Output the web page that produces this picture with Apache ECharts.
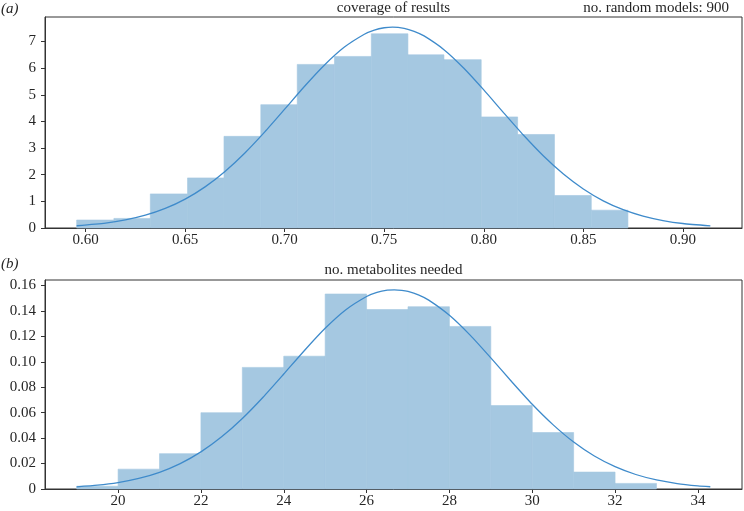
<!DOCTYPE html>
<html>
<head>
<meta charset="utf-8">
<script src="https://cdn.jsdelivr.net/npm/echarts@6/dist/echarts.min.js"></script>
<style>
  html, body { margin: 0; padding: 0; background: #fff; }
  #chart { width: 744px; height: 511px; }
</style>
</head>
<body>
<div id="chart"></div>
<script>
// ---------- data ----------
// (a) coverage of results: histogram bin edges and densities
const coverageEdges = [0.5955, 0.6142, 0.6325, 0.6512, 0.6695, 0.6880, 0.7063, 0.7250,
                       0.7435, 0.7619, 0.7800, 0.7987, 0.8170, 0.8355, 0.8540, 0.8724];
const coverageHeights = [0.30, 0.36, 1.28, 1.88, 3.44, 4.63, 6.14, 6.44, 7.29, 6.50,
                         6.32, 4.17, 3.51, 1.22, 0.67];
// fitted curve points
const coverageCurveX = [0.5955, 0.61, 0.62, 0.63, 0.64, 0.65, 0.66, 0.67, 0.68, 0.69, 0.70,
                        0.71, 0.72, 0.73, 0.74, 0.745, 0.75, 0.7542, 0.76, 0.765, 0.77, 0.78,
                        0.79, 0.80, 0.81, 0.82, 0.83, 0.84, 0.85, 0.86, 0.87, 0.88, 0.89,
                        0.90, 0.9138];
const coverageCurveY = [0.084, 0.184, 0.302, 0.479, 0.734, 1.084, 1.544, 2.124, 2.818, 3.609,
                        4.460, 5.319, 6.118, 6.790, 7.273, 7.429, 7.516, 7.540, 7.495, 7.383,
                        7.211, 6.695, 5.997, 5.183, 4.323, 3.479, 2.701, 2.024, 1.463, 1.020,
                        0.687, 0.446, 0.280, 0.169, 0.080];
const coverageXTicks = [0.60, 0.65, 0.70, 0.75, 0.80, 0.85, 0.90];
const coverageYTicks = [0, 1, 2, 3, 4, 5, 6, 7];

// (b) no. metabolites needed
const metabEdges = [19, 20, 21, 22, 23, 24, 25, 26, 27, 28, 29, 30, 31, 32, 33];
const metabHeights = [0.0022, 0.0156, 0.0278, 0.0600, 0.0956, 0.1044, 0.1533, 0.1411,
                      0.1433, 0.1278, 0.0656, 0.0444, 0.0133, 0.0044];
const metabCurveX = [19, 19.5, 20, 20.5, 21, 21.5, 22, 22.5, 23, 23.5, 24, 24.5, 25, 25.5,
                     26, 26.25, 26.5, 26.67, 26.85, 27, 27.25, 27.5, 28, 28.5, 29, 29.5, 30,
                     30.5, 31, 31.5, 32, 32.5, 33, 33.5, 34, 34.3];
const metabCurveY = [0.00168, 0.00298, 0.00508, 0.00833, 0.01314, 0.01997, 0.02916, 0.0410,
                     0.05546, 0.07218, 0.0904, 0.1089, 0.1263, 0.1409, 0.1513, 0.1545,
                     0.1563, 0.1566, 0.1562, 0.1553, 0.1526, 0.1485, 0.1366, 0.1210,
                     0.1031, 0.0845, 0.0666, 0.0506, 0.0369, 0.0259, 0.01754, 0.0114,
                     0.00714, 0.0043, 0.00249, 0.00176];
const metabXTicks = [20, 22, 24, 26, 28, 30, 32, 34];
const metabYTicks = [0, 0.02, 0.04, 0.06, 0.08, 0.10, 0.12, 0.14, 0.16];

const titleA = 'coverage of results';
const noteA = 'no. random models: 900';
const titleB = 'no. metabolites needed';

// ---------- build ----------
const FONT = '"Liberation Serif", "Times New Roman", serif';
const FS = 15;
const TXT = '#262626';
const BAR = '#a5c8e1';
const LINE = '#3f8bcb';

function binData(edges, heights) {
  return heights.map((h, i) => [edges[i], edges[i + 1], h]);
}
function zip(xs, ys) { return xs.map((x, i) => [x, ys[i]]); }

function renderBin(params, api) {
  const p0 = api.coord([api.value(0), api.value(2)]);
  const p1 = api.coord([api.value(1), 0]);
  return {
    type: 'rect',
    shape: { x: p0[0], y: p0[1], width: p1[0] - p0[0], height: p1[1] - p0[1] },
    style: { fill: BAR, stroke: BAR, lineWidth: 0.6 }
  };
}

function xAxis(idx, min, max, ticks, fmt) {
  return {
    type: 'value', gridIndex: idx, min: min, max: max,
    splitLine: { show: false },
    axisLine: { show: true, lineStyle: { color: '#333', width: 1 } },
    axisTick: { show: true, length: 4, customValues: ticks, lineStyle: { color: '#333' } },
    axisLabel: { customValues: ticks, formatter: fmt, margin: 5,
                 fontFamily: FONT, fontSize: FS, color: TXT }
  };
}
function yAxis(idx, max, ticks, fmt) {
  return {
    type: 'value', gridIndex: idx, min: 0, max: max,
    splitLine: { show: false },
    axisLine: { show: true, lineStyle: { color: '#333', width: 1 } },
    axisTick: { show: true, length: 4, customValues: ticks, lineStyle: { color: '#333' } },
    axisLabel: { customValues: ticks, formatter: fmt, margin: 9,
                 fontFamily: FONT, fontSize: FS, color: TXT }
  };
}

const chart = echarts.init(document.getElementById('chart'), null, { renderer: 'canvas' });
chart.setOption({
  animation: false,
  backgroundColor: '#fff',
  grid: [
    { left: 45, top: 17, width: 697, height: 211, show: true, borderColor: '#333', borderWidth: 1 },
    { left: 45, top: 280, width: 697, height: 209, show: true, borderColor: '#333', borderWidth: 1 }
  ],
  xAxis: [
    xAxis(0, 0.5796, 0.9297, coverageXTicks, v => v.toFixed(2)),
    xAxis(1, 18.235, 35.065, metabXTicks, v => String(Math.round(v)))
  ],
  yAxis: [
    yAxis(0, 7.92, coverageYTicks, v => String(Math.round(v))),
    yAxis(1, 0.1643, metabYTicks, v => (v === 0 ? '0' : v.toFixed(2)))
  ],
  graphic: [
    { type: 'text', x: 1, y: 9, style: { text: '(a)', font: 'italic ' + FS + 'px ' + FONT, fill: TXT, textVerticalAlign: 'middle' } },
    { type: 'text', x: 393.5, y: 8, style: { text: titleA, font: FS + 'px ' + FONT, fill: TXT, textAlign: 'center', textVerticalAlign: 'middle' } },
    { type: 'text', x: 729, y: 8, style: { text: noteA, font: FS + 'px ' + FONT, fill: TXT, textAlign: 'right', textVerticalAlign: 'middle' } },
    { type: 'text', x: 1, y: 264, style: { text: '(b)', font: 'italic ' + FS + 'px ' + FONT, fill: TXT, textVerticalAlign: 'middle' } },
    { type: 'text', x: 393.5, y: 270, style: { text: titleB, font: FS + 'px ' + FONT, fill: TXT, textAlign: 'center', textVerticalAlign: 'middle' } }
  ],
  series: [
    { type: 'custom', xAxisIndex: 0, yAxisIndex: 0, renderItem: renderBin,
      encode: { x: [0, 1], y: 2 }, data: binData(coverageEdges, coverageHeights), z: 1 },
    { type: 'line', xAxisIndex: 0, yAxisIndex: 0, data: zip(coverageCurveX, coverageCurveY),
      smooth: 0.2, showSymbol: false, lineStyle: { color: LINE, width: 1.3 }, z: 3 },
    { type: 'custom', xAxisIndex: 1, yAxisIndex: 1, renderItem: renderBin,
      encode: { x: [0, 1], y: 2 }, data: binData(metabEdges, metabHeights), z: 1 },
    { type: 'line', xAxisIndex: 1, yAxisIndex: 1, data: zip(metabCurveX, metabCurveY),
      smooth: 0.2, showSymbol: false, lineStyle: { color: LINE, width: 1.3 }, z: 3 }
  ]
});
</script>
</body>
</html>
